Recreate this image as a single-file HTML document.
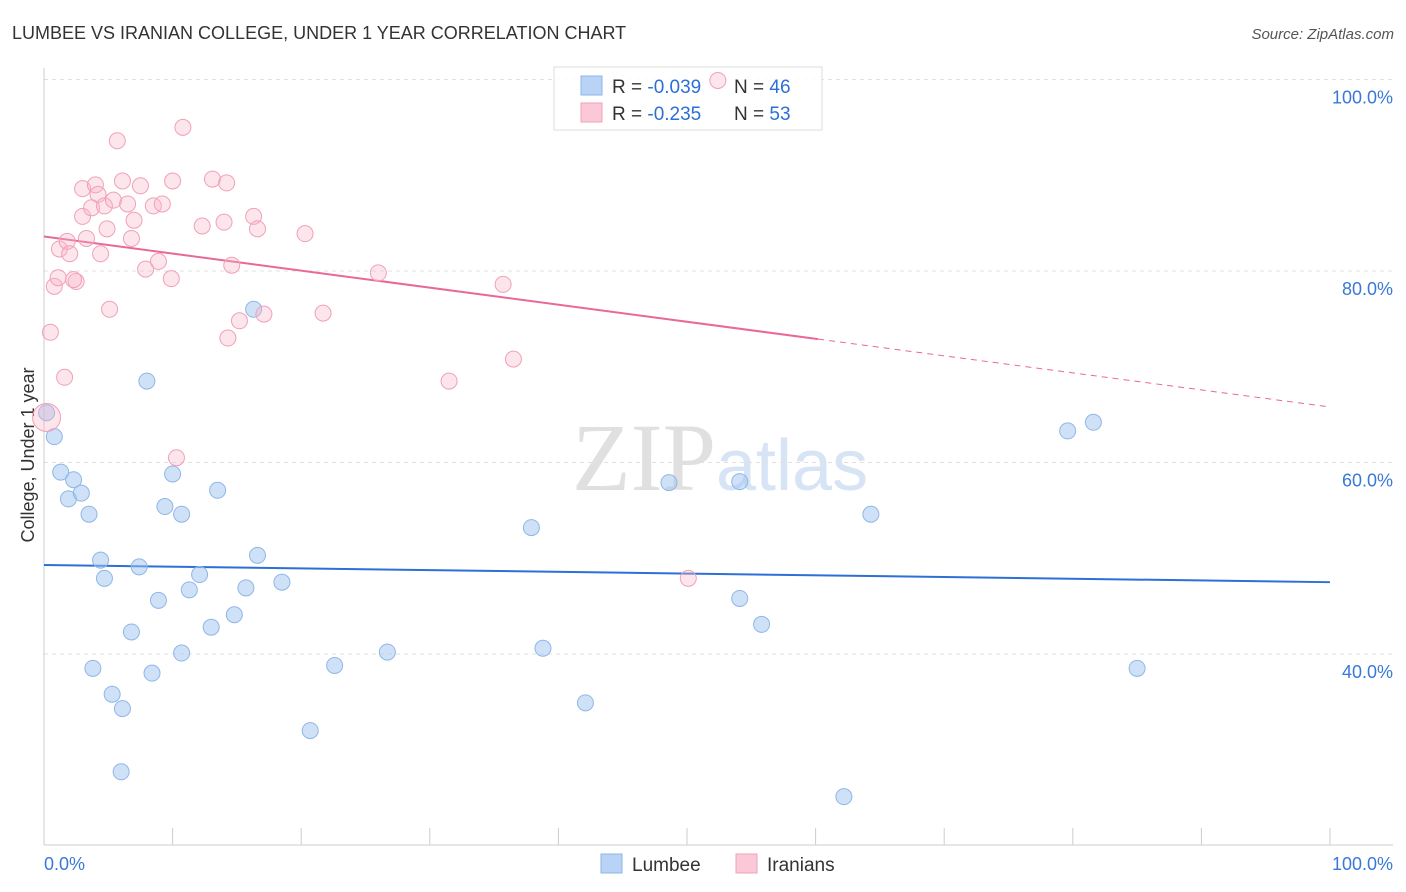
<!DOCTYPE html>
<html><head><meta charset="utf-8"><style>
body{margin:0;background:#fff;font-family:"Liberation Sans",sans-serif}
svg{display:block}
</style></head><body>
<svg id="c" width="1406" height="892">
<text x="12" y="39" font-size="18" fill="#333">LUMBEE VS IRANIAN COLLEGE, UNDER 1 YEAR CORRELATION CHART</text>
<text x="1394" y="39" font-size="15" fill="#555" font-style="italic" text-anchor="end">Source: ZipAtlas.com</text>
<text x="716" y="490" font-size="96" font-family="Liberation Serif,serif" fill="#e0e0e0" text-anchor="end">ZIP</text>
<text x="716" y="490" font-size="72" fill="#d6e4f6">atlas</text>
<text transform="translate(34,455) rotate(-90)" font-size="18" fill="#333" text-anchor="middle">College, Under 1 year</text>
<g id="grid"></g><g id="lines"></g>
<g>
<rect x="554" y="67" width="268" height="63" fill="#fff" fill-opacity="0.85" stroke="#ddd"/>
<rect x="581" y="76" width="21" height="19" fill="#b8d3f5" stroke="#8fb6e8"/>
<rect x="581" y="103" width="21" height="19" fill="#fac8d6" stroke="#f0a0b8"/>
<text x="612" y="93" font-size="19" fill="#333">R = <tspan fill="#2c6fd6">-0.039</tspan></text>
<text x="734" y="93" font-size="19" fill="#333">N = <tspan fill="#2c6fd6">46</tspan></text>
<text x="612" y="120" font-size="19" fill="#333">R = <tspan fill="#2c6fd6"> -0.235</tspan></text>
<text x="734" y="120" font-size="19" fill="#333">N = <tspan fill="#2c6fd6">53</tspan></text>
</g>
<g id="pts"></g>
<g>
<rect x="601" y="854" width="21" height="19" fill="#b8d3f5" stroke="#8fb6e8"/>
<text x="632" y="871" font-size="19" fill="#333">Lumbee</text>
<rect x="736" y="854" width="21" height="19" fill="#fac8d6" stroke="#f0a0b8"/>
<text x="767" y="871" font-size="19" fill="#333">Iranians</text>
</g>
</svg>
<script>
const yTicks=[100,80,60,40];
const yTickLabels=["100.0%","80.0%","60.0%","40.0%"];
const xTickLabels=["0.0%","100.0%"];
const lumbeeX=[0.2,0.8,1.3,2.3,1.9,2.9,3.5,4.4,4.7,7.4,6.8,3.8,5.3,6.1,6.0,8.0,10.0,9.4,10.7,8.9,12.1,11.3,10.7,8.4,13.0,13.5,14.8,15.7,16.6,16.3,18.5,22.6,20.7,26.7,37.9,38.8,42.1,48.6,54.1,54.1,55.8,62.2,64.3,79.6,81.6,85.0];
const lumbeeY=[65.2,62.7,59.0,58.2,56.2,56.8,54.6,49.8,47.9,49.1,42.3,38.5,35.8,34.3,27.7,68.5,58.8,55.4,54.6,45.6,48.3,46.7,40.1,38.0,42.8,57.1,44.1,46.9,50.3,76.0,47.5,38.8,32.0,40.2,53.2,40.6,34.9,57.9,58.0,45.8,43.1,25.1,54.6,63.3,64.2,38.5];
const iranX=[0.2,0.5,0.8,1.1,1.6,1.2,1.8,2.0,2.5,2.3,3.0,3.0,3.3,3.7,4.0,4.2,4.4,4.7,4.9,5.1,5.7,5.4,6.1,6.5,6.8,7.0,7.5,7.9,8.5,8.9,9.2,9.9,10.0,10.3,10.8,12.3,13.1,14.0,14.2,14.3,14.6,15.2,16.3,16.6,17.1,20.3,21.7,26.0,31.5,35.7,36.5,50.1,52.4];
const iranY=[64.7,73.6,78.4,79.3,68.9,82.3,83.1,81.8,78.9,79.1,88.6,85.7,83.4,86.6,89.0,88.0,81.8,86.8,84.4,76.0,93.6,87.4,89.4,87.0,83.4,85.3,88.9,80.2,86.8,81.0,87.0,79.2,89.4,60.5,95.0,84.7,89.6,85.1,89.2,73.0,80.6,74.8,85.7,84.4,75.5,83.9,75.6,79.8,68.5,78.6,70.8,47.9,99.9];
const lumbeeTrend=[49.3,47.5];
const iranTrend=[83.6,65.8];
const iranSolidEnd=60.2;
const X=v=>44+v*12.86, Y=v=>79.5+(100-v)*9.575;
const NS="http://www.w3.org/2000/svg";
function mk(t,a,p){const e=document.createElementNS(NS,t);for(const k in a)e.setAttribute(k,a[k]);p.appendChild(e);return e;}
const g=document.getElementById('grid');
yTicks.forEach((t,i)=>{
 const l=mk('line',{x1:44,x2:1393,y1:Y(t),y2:Y(t),stroke:'#e0e0e0','stroke-dasharray':'4,4'},g);
 
 
 const tx=mk('text',{x:1393,y:Y(t)+24,'font-size':18,fill:'#3a78d8','text-anchor':'end'},g);
 tx.textContent=yTickLabels[i];
 
 
});
mk('line',{x1:44,x2:44,y1:68,y2:845,stroke:'#ccc'},g);
mk('line',{x1:44,x2:1393,y1:845,y2:845,stroke:'#ccc'},g);
for(let i=0;i<=10;i++){const t=mk('line',{x1:X(i*10),x2:X(i*10),y1:828,y2:845,stroke:'#ccc'},g);
 
 }
[[X(0),'start'],[1393,'end']].forEach((p,i)=>{const t=mk('text',{x:p[0],y:870,'font-size':18,fill:'#3a78d8','text-anchor':p[1]},g);t.textContent=xTickLabels[i];
 
 });
const P=document.getElementById('pts');
lumbeeX.forEach((x,i)=>{const c=mk('circle',{cx:X(x),cy:Y(lumbeeY[i]),r:8,fill:'rgba(160,196,240,0.5)',stroke:'#8fb6e8','stroke-width':1},P);
 
 });
iranX.forEach((x,i)=>{const c=mk('circle',{cx:X(x),cy:Y(iranY[i]),r:i==0?14:8,fill:'rgba(248,180,200,0.35)',stroke:'#f0a0b8','stroke-width':1},P);
 
 });
const L=document.getElementById('lines');
const bl=mk('line',{x1:X(0),y1:Y(lumbeeTrend[0]),x2:X(100),y2:Y(lumbeeTrend[1]),stroke:'#2c6fd6','stroke-width':2},L);


const pm=v=>iranTrend[0]+(iranTrend[1]-iranTrend[0])*v/100;
const pl=mk('line',{x1:X(0),y1:Y(pm(0)),x2:X(iranSolidEnd),y2:Y(pm(iranSolidEnd)),stroke:'#e8689a','stroke-width':2},L);


const pd=mk('line',{x1:X(iranSolidEnd),y1:Y(pm(iranSolidEnd)),x2:X(100),y2:Y(pm(100)),stroke:'#e8689a','stroke-width':1,'stroke-dasharray':'6,5'},L);


</script>
</body></html>
